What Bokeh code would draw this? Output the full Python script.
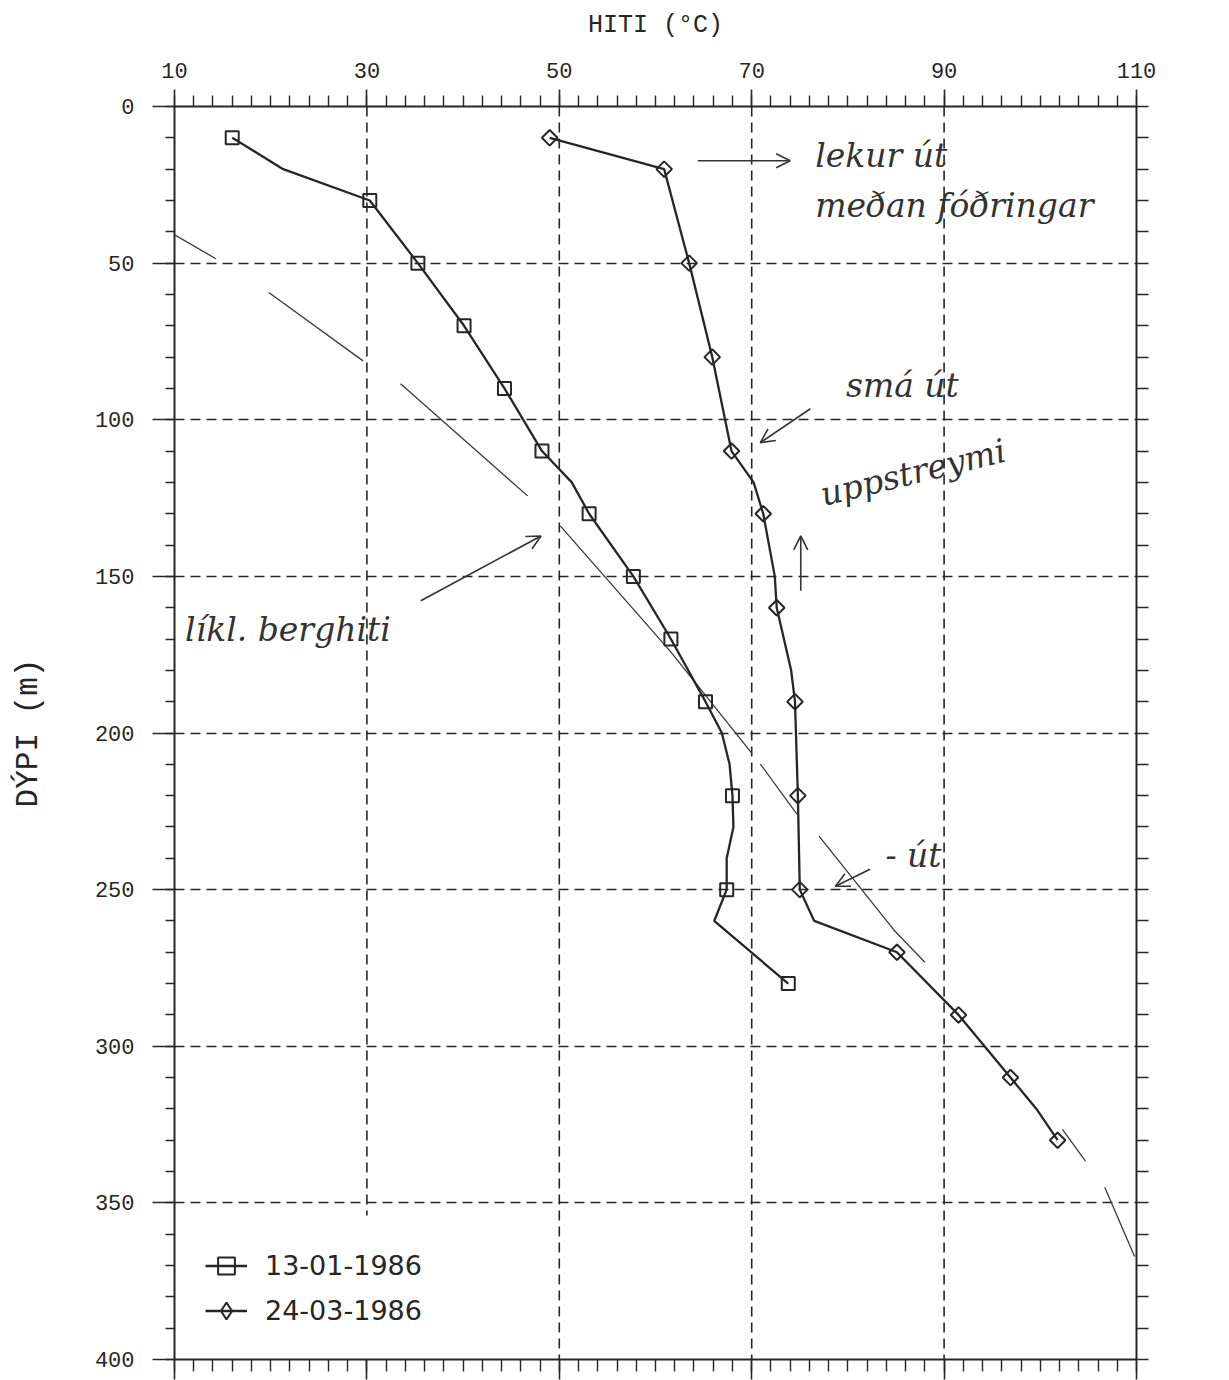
import numpy as np
from bokeh.plotting import figure
from bokeh.models import (Range1d, LinearAxis, FixedTicker, Legend, LegendItem,
                          Label, Arrow, OpenHead, ColumnDataSource)
from bokeh.embed import file_html
from bokeh.resources import INLINE

# ---------------- data ----------------
# Profile 1: 13-01-1986 (depth m, temperature C); mark1 = plotted marker
depth1 = [10, 20, 30, 50, 70, 90, 110, 120, 130, 150, 170, 190, 200, 210, 220, 230, 240, 250, 260, 280]
temp1 = [16.0, 21.3, 30.3, 35.3, 40.1, 44.3, 48.2, 51.3, 53.1, 57.7, 61.6, 65.2, 66.9, 67.7, 68.0, 68.1, 67.4, 67.4, 66.1, 73.8]
mark1 = [1, 0, 1, 1, 1, 1, 1, 0, 1, 1, 1, 1, 0, 0, 1, 0, 0, 1, 0, 1]

# Profile 2: 24-03-1986
depth2 = [10, 20, 50, 80, 110, 120, 130, 150, 160, 180, 190, 220, 250, 260, 270, 290, 310, 320, 330]
temp2 = [49.0, 60.9, 63.5, 65.9, 67.9, 70.2, 71.2, 72.4, 72.6, 74.1, 74.5, 74.8, 75.0, 76.5, 85.1, 91.5, 96.9, 99.6, 101.8]
mark2 = [1, 1, 1, 1, 1, 0, 1, 0, 1, 0, 1, 1, 1, 0, 1, 1, 1, 0, 1]

series_labels = ["13-01-1986", "24-03-1986"]

# hand-drawn "likely formation temperature" curve (broken pen strokes)
hand_temp = [[2.8, 14.3], [19.8, 29.6], [33.5, 46.7], [50.1, 61.5, 70.0], [70.9, 74.7],
             [77.0, 84.9, 88.0], [102.3, 104.7], [106.7, 109.8]]
hand_depth = [[28.1, 48.6], [59.4, 81.2], [88.5, 124.3], [133.9, 173.8, 206.4], [209.9, 225.9],
              [232.9, 263.3, 273.2], [326.5, 336.7], [345.0, 367.1]]

# axis ticks
x_ticks = [10, 30, 50, 70, 90, 110]
x_minor = list(range(10, 111, 2))
y_ticks = [0, 50, 100, 150, 200, 250, 300, 350, 400]
y_minor = list(range(0, 401, 10))
y_grid = [50, 100, 150, 200, 250, 300, 350]
x_grid = [30, 50, 70, 90]
x_grid_end = [354, 400, 400, 400]

# handwritten notes
notes = ["lekur út", "meðan fóðringar", "smá út", "uppstreymi", "líkl. berghiti", "- út"]

ink = "#262626"
mono = "Liberation Mono"

p = figure(width=1229, height=1380, x_range=Range1d(10, 110), y_range=Range1d(400, 0),
           x_axis_location="above", output_backend="svg", toolbar_location=None,
           min_border_left=174, min_border_right=93, min_border_top=106, min_border_bottom=21)
p.outline_line_color = None
p.background_fill_color = "white"
p.border_fill_color = "white"

# top axis
xa = p.xaxis[0]
xa.ticker = FixedTicker(ticks=x_ticks, minor_ticks=x_minor)
xa.axis_line_width = 2
xa.axis_line_color = ink
xa.major_tick_line_color = ink
xa.minor_tick_line_color = ink
xa.major_tick_line_width = 1.6
xa.minor_tick_line_width = 1.4
xa.major_tick_out = 17
xa.major_tick_in = 0
xa.minor_tick_out = 11
xa.minor_tick_in = 0
xa.major_label_standoff = 12
xa.major_label_text_font = mono
xa.major_label_text_font_size = "22px"
xa.major_label_text_color = ink
xa.axis_label = "HITI (°C)"
xa.axis_label_text_font = mono
xa.axis_label_text_font_size = "25px"
xa.axis_label_text_font_style = "normal"
xa.axis_label_text_color = ink
xa.axis_label_standoff = 20

# left axis
ya = p.yaxis[0]
ya.ticker = FixedTicker(ticks=y_ticks, minor_ticks=y_minor)
ya.axis_line_width = 2
ya.axis_line_color = ink
ya.major_tick_line_color = ink
ya.minor_tick_line_color = ink
ya.major_tick_line_width = 1.6
ya.minor_tick_line_width = 1.4
ya.major_tick_out = 22
ya.major_tick_in = 0
ya.minor_tick_out = 9
ya.minor_tick_in = 0
ya.major_label_standoff = 18
ya.major_label_text_font = mono
ya.major_label_text_font_size = "22px"
ya.major_label_text_color = ink
ya.axis_label = "DÝPI (m)"
ya.axis_label_text_font = mono
ya.axis_label_text_font_size = "31px"
ya.axis_label_text_font_style = "normal"
ya.axis_label_text_color = ink
ya.axis_label_standoff = 46

# right axis (ticks only, labels not drawn)
ra = LinearAxis(ticker=FixedTicker(ticks=y_minor, minor_ticks=[]), major_tick_out=12, major_tick_in=0,
                minor_tick_out=0, minor_tick_in=0, major_label_text_color=None,
                major_label_text_font_size="0px", major_label_standoff=0,
                axis_line_width=2, axis_line_color=ink,
                major_tick_line_color=ink, major_tick_line_width=1.6)
p.add_layout(ra, "right")

# bottom axis (ticks only, labels not drawn)
ba = LinearAxis(ticker=FixedTicker(ticks=x_ticks, minor_ticks=x_minor), major_tick_out=20, major_tick_in=0,
                minor_tick_out=12, minor_tick_in=0, major_label_text_color=None,
                major_label_text_font_size="0px", major_label_standoff=0,
                axis_line_width=2, axis_line_color=ink,
                major_tick_line_color=ink, minor_tick_line_color=ink,
                major_tick_line_width=1.6, minor_tick_line_width=1.4)
p.add_layout(ba, "below")

# grids
p.xgrid.visible = False
p.ygrid.ticker = FixedTicker(ticks=y_grid)
p.ygrid.grid_line_color = ink
p.ygrid.grid_line_width = 1.6
p.ygrid.grid_line_dash = "10 6"
p.segment(x0=x_grid, y0=[0] * len(x_grid), x1=x_grid, y1=x_grid_end,
          line_color=ink, line_width=1.6, line_dash="10 6")

# hand-drawn curve
p.multi_line(xs=hand_temp, ys=hand_depth, line_color="#3a3a3a", line_width=1.3)

# series
src1 = ColumnDataSource(dict(t=[t for t, m in zip(temp1, mark1) if m], d=[d for d, m in zip(depth1, mark1) if m]))
src2 = ColumnDataSource(dict(t=[t for t, m in zip(temp2, mark2) if m], d=[d for d, m in zip(depth2, mark2) if m]))

l1 = p.line(temp1, depth1, line_color=ink, line_width=2.3)
m1 = p.scatter("t", "d", source=src1, marker="square", size=13, fill_color=None,
               line_color=ink, line_width=2)
l2 = p.line(temp2, depth2, line_color=ink, line_width=2.3)
m2 = p.scatter("t", "d", source=src2, marker="square", angle=np.pi / 4, size=11, fill_color=None,
               line_color=ink, line_width=2)
# legend proxy for the diamond symbol (lies outside the visible ranges, so only the legend shows it)
m2_leg = p.scatter(x=[-1000], y=[-1000], marker="diamond", size=19, fill_color=None,
                   line_color=ink, line_width=2)

legend = Legend(items=[LegendItem(label=series_labels[0], renderers=[l1, m1]),
                       LegendItem(label=series_labels[1], renderers=[l2, m2_leg])],
                location=(31, 26), glyph_width=42, glyph_height=45, label_standoff=18,
                label_text_font="DejaVu Sans", label_text_font_size="27px", label_text_color=ink,
                border_line_color=None, background_fill_alpha=0, padding=0, margin=0, spacing=0)
p.add_layout(legend)

# handwritten notes
hand_font = "DejaVu Serif"
note_pos = [(76.6, 15.5, 0.0), (76.6, 31.5, 0.0), (79.8, 89.0, 0.0), (77.2, 124.0, 0.24),
            (11.1, 167.0, 0.0), (83.9, 239.0, 0.0)]
for txt, (tx, dy, ang) in zip(notes, note_pos):
    p.add_layout(Label(x=tx, y=dy, text=txt, angle=ang, text_font=hand_font, text_font_size="33px",
                       text_font_style="italic", text_color="#333333", text_baseline="middle"))

arrows = [(64.4, 17.3, 74.0, 17.3), (76.1, 96.5, 70.9, 107.3), (75.1, 154.6, 75.1, 137.1),
          (35.6, 157.8, 48.1, 137.1), (82.3, 243.5, 78.7, 248.9)]
for xs, ys, xe, ye in arrows:
    p.add_layout(Arrow(end=OpenHead(size=14, line_width=1.6, line_color="#333333"),
                       x_start=xs, y_start=ys, x_end=xe, y_end=ye,
                       line_width=1.6, line_color="#333333"))

open("out.html", "w").write(file_html(p, INLINE))
